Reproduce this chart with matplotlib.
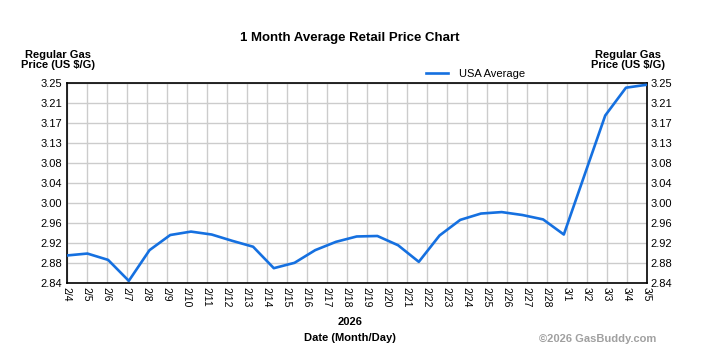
import matplotlib
matplotlib.use("Agg")
import matplotlib.pyplot as plt
import numpy as np

plt.rcParams['font.family'] = ['Liberation Sans', 'DejaVu Sans']

tick_labels = ["2/4", "2/5", "2/6", "2/7", "2/8", "2/9", "2/10", "2/11", "2/12", "2/13",
               "2/14", "2/15", "2/16", "2/17", "2/18", "2/19", "2/20", "2/21", "2/22",
               "2/23", "2/24", "2/25", "2/26", "2/27", "2/28", "3/1", "3/2", "3/3",
               "3/4", "3/5"]
usa_average = [2.897, 2.901, 2.888, 2.845, 2.908, 2.939, 2.946, 2.940, 2.927, 2.915,
               2.871, 2.882, 2.908, 2.925, 2.936, 2.937, 2.918, 2.884, 2.938, 2.970,
               2.983, 2.986, 2.980, 2.971, 2.940, 3.062, 3.184, 3.241, 3.247]
y_tick_labels = ["2.84", "2.88", "2.92", "2.96", "3.00", "3.04", "3.08", "3.13", "3.17", "3.21", "3.25"]
y_min, y_max = 2.84, 3.25

fig = plt.figure(figsize=(7.1, 3.56), dpi=100)
ax = fig.add_axes([0.0939, 0.2042, 0.8169, 0.5618])

n = len(usa_average)
x = np.arange(n) * (len(tick_labels) - 1) / (n - 1)
ax.plot(x, usa_average, color='#1570e0', lw=1.9, solid_joinstyle='round', zorder=3,
        label='USA Average')

ax.set_xlim(0, len(tick_labels) - 1)
ax.set_ylim(y_min, y_max)
ax.set_xticks(np.arange(len(tick_labels)))
ax.set_xticklabels(tick_labels, rotation=270, fontsize=7.5)
yt = np.linspace(y_min, y_max, len(y_tick_labels))
ax.set_yticks(yt)
ax.set_yticklabels(y_tick_labels, fontsize=8)
ax.tick_params(axis='both', length=0, pad=3)
ax.tick_params(axis='y', labelright=True, right=False)
ax.grid(True, color='#cccccc', lw=1)
ax.set_axisbelow(True)
for s in ax.spines.values():
    s.set_color('black')
    s.set_linewidth(1.2)

fig.text(0.493, 0.893, "1 Month Average Retail Price Chart", ha='center', va='center',
         fontsize=9.5, fontweight='bold')
fig.text(0.082, 0.832, "Regular Gas\nPrice (US $/G)", ha='center', va='center',
         fontsize=8, fontweight='bold', linespacing=1.05)
fig.text(0.885, 0.832, "Regular Gas\nPrice (US $/G)", ha='center', va='center',
         fontsize=8, fontweight='bold', linespacing=1.05)
fig.text(0.493, 0.095, "2026", ha='center', va='center', fontsize=8, fontweight='bold')
fig.text(0.493, 0.05, "Date (Month/Day)", ha='center', va='center', fontsize=8, fontweight='bold')
fig.text(0.925, 0.047, "\u00a92026 GasBuddy.com", ha='right', va='center', fontsize=8,
         fontweight='bold', color='#a0a0a0')

leg = fig.legend(loc='center', bbox_to_anchor=(0.67, 0.793), frameon=False, fontsize=8,
                 handlelength=2.0, handletextpad=1.0)

fig.savefig("out.png", dpi=100)
